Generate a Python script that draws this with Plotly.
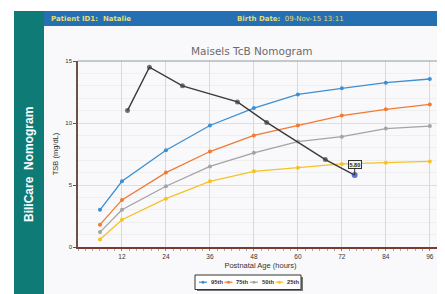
import plotly.graph_objects as go

# ---- data ----
ages = [6, 12, 24, 36, 48, 60, 72, 84, 96]
p95 = [3.0, 5.3, 7.8, 9.8, 11.2, 12.3, 12.8, 13.25, 13.55]
p75 = [1.8, 3.8, 6.0, 7.7, 9.0, 9.8, 10.6, 11.1, 11.5]
p50 = [1.2, 3.0, 4.9, 6.5, 7.6, 8.5, 8.9, 9.55, 9.75]
p25 = [0.6, 2.2, 3.9, 5.3, 6.1, 6.4, 6.7, 6.8, 6.9]
series_names = ["95th", "75th", "50th", "25th"]
series_colors = ["#3b8fd2", "#f07a32", "#a3a3a3", "#f5c225"]

patient_ages = [13.5, 19.5, 28.5, 43.5, 51.5, 67.5, 75.5]
patient_tsb = [11.0, 14.5, 13.0, 11.7, 10.05, 7.05, 5.8]
latest_label = "5.80"

x_ticks = [12, 24, 36, 48, 60, 72, 84, 96]
y_ticks = [0, 5, 10, 15]

# ---- layout geometry (page has an 8px body margin) ----
O = 8
W, H = 437, 286
L, R, T, B = 70, 2, 53, 47
pw, ph = W - L - R, H - T - B


def px(x):
    return (x - O - L) / pw


def py(y):
    return (H - B - (y - O)) / ph


fig = go.Figure()
for name, vals, col in zip(series_names, [p95, p75, p50, p25], series_colors):
    fig.add_trace(go.Scatter(
        x=ages, y=vals, mode="lines+markers", name=name,
        line=dict(color=col, width=1.3),
        marker=dict(color=col, size=4), showlegend=False, hoverinfo="skip"))

pcolors = ["#3a3a3a"] * (len(patient_ages) - 1) + ["#1f3fb8"]
psizes = [5] * (len(patient_ages) - 1) + [6]
fig.add_trace(go.Scatter(
    x=patient_ages, y=patient_tsb, mode="lines+markers", name="Patient",
    line=dict(color="#3a3a3a", width=1.4),
    marker=dict(color=pcolors, size=psizes, line=dict(width=0)), showlegend=False))

shapes = []
annotations = []
# outer page panels
shapes.append(dict(type="rect", xref="paper", yref="paper", x0=px(44), x1=px(446),
                   y0=py(295), y1=py(26), fillcolor="#f9f9fb", line=dict(width=0), layer="below"))
shapes.append(dict(type="rect", xref="paper", yref="paper", x0=px(14), x1=px(44),
                   y0=py(295), y1=py(11), fillcolor="#0f7b77", line=dict(width=0)))
shapes.append(dict(type="rect", xref="paper", yref="paper", x0=px(44), x1=px(446),
                   y0=py(26), y1=py(11), fillcolor="#2470b2", line=dict(width=0)))
# plot frame top/right
shapes.append(dict(type="line", xref="paper", yref="paper", x0=0, x1=1, y0=1, y1=1,
                   line=dict(color="#8a9a9a", width=1)))
shapes.append(dict(type="line", xref="paper", yref="paper", x0=1, x1=1, y0=0, y1=1,
                   line=dict(color="#8a9a9a", width=1)))

annotations.append(dict(xref="paper", yref="paper", x=px(29), y=py(165), xanchor="center", yanchor="middle",
                        text="<b>BiliCare  Nomogram</b>",
                        textangle=-90, showarrow=False, font=dict(color="white", size=12, family="Liberation Sans")))
annotations.append(dict(xref="paper", yref="paper", x=px(49), y=py(18.5), xanchor="left", yanchor="middle",
                        text="<b>Patient ID1:  Natalie</b>", showarrow=False,
                        font=dict(color="#e4dc7a", size=7, family="DejaVu Sans")))
annotations.append(dict(xref="paper", yref="paper", x=px(235), y=py(18.5), xanchor="left", yanchor="middle",
                        text="<b>Birth Date:</b>  09-Nov-15 13:11", showarrow=False,
                        font=dict(color="#e4dc7a", size=7, family="DejaVu Sans")))
annotations.append(dict(xref="paper", yref="paper", x=px(252), y=py(51), xanchor="center", yanchor="middle",
                        text="Maisels TcB Nomogram",
                        showarrow=False, font=dict(color="#6b6b6b", size=10.5, family="DejaVu Sans")))

# latest value label
annotations.append(dict(x=patient_ages[-1], y=patient_tsb[-1], text="<b>" + latest_label + "</b>",
                        showarrow=True, arrowhead=0, arrowwidth=1, arrowcolor="#333333", ax=0, ay=-11,
                        font=dict(size=5.5, color="#222222", family="Liberation Sans"),
                        bgcolor="#f3f3e6", bordercolor="#333333", borderwidth=1, borderpad=0.5))

# manual legend
shapes.append(dict(type="rect", xref="paper", yref="paper", x0=px(197), x1=px(303),
                   y0=py(291), y1=py(277), fillcolor="#777777", line=dict(width=0)))
shapes.append(dict(type="rect", xref="paper", yref="paper", x0=px(195), x1=px(301),
                   y0=py(289.5), y1=py(275), fillcolor="white", line=dict(color="#333333", width=1)))
for i, (name, col) in enumerate(zip(series_names, series_colors)):
    cx = 203 + i * 25.5
    shapes.append(dict(type="line", xref="paper", yref="paper", x0=px(cx - 4), x1=px(cx + 4),
                       y0=py(282.2), y1=py(282.2), line=dict(color=col, width=1.2)))
    shapes.append(dict(type="circle", xref="paper", yref="paper", x0=px(cx - 1.5), x1=px(cx + 1.5),
                       y0=py(283.7), y1=py(280.7), fillcolor=col, line=dict(width=0)))
    annotations.append(dict(xref="paper", yref="paper", x=px(cx + 5.5), y=py(282.2), xanchor="left",
                            yanchor="middle", text="<b>" + name + "</b>", showarrow=False,
                            font=dict(size=5.8, color="#333333", family="Liberation Sans")))

fig.update_layout(
    width=W, height=H, margin=dict(l=L, r=R, t=T, b=B, pad=0),
    paper_bgcolor="white", plot_bgcolor="#fbfbfc",
    shapes=shapes, annotations=annotations, showlegend=False,
    font=dict(family="Liberation Sans", color="#333333"),
    xaxis=dict(range=[0, 99.6], tickvals=x_ticks, ticktext=[str(v) for v in x_ticks],
               showgrid=True, gridcolor="#d9d9d9", gridwidth=1.3, zeroline=False,
               showline=True, linecolor="#7a3a2e", linewidth=1.5,
               ticks="outside", ticklen=2, tickcolor="#888888",
               tickfont=dict(size=6.5, color="#333333"),
               minor=dict(dtick=2, tick0=0, ticks="outside", ticklen=2, tickcolor="#aaaaaa", showgrid=False),
               title=dict(text="Postnatal Age (hours)", font=dict(size=7.5, color="#333333"), standoff=4)),
    yaxis=dict(range=[0, 15], tickvals=y_ticks, ticktext=[str(v) for v in y_ticks],
               showgrid=True, gridcolor="#dedede", gridwidth=1, zeroline=False,
               showline=True, linecolor="#6e5045", linewidth=1.5,
               ticks="outside", ticklen=3, tickcolor="#555555",
               tickfont=dict(size=6, color="#333333"),
               minor=dict(dtick=1, tick0=0, showgrid=True, gridcolor="#efefef", gridwidth=1),
               title=dict(text="TSB (mg/dL)", font=dict(size=7.5, color="#333333"), standoff=6)),
)

fig.write_html("out.html")
